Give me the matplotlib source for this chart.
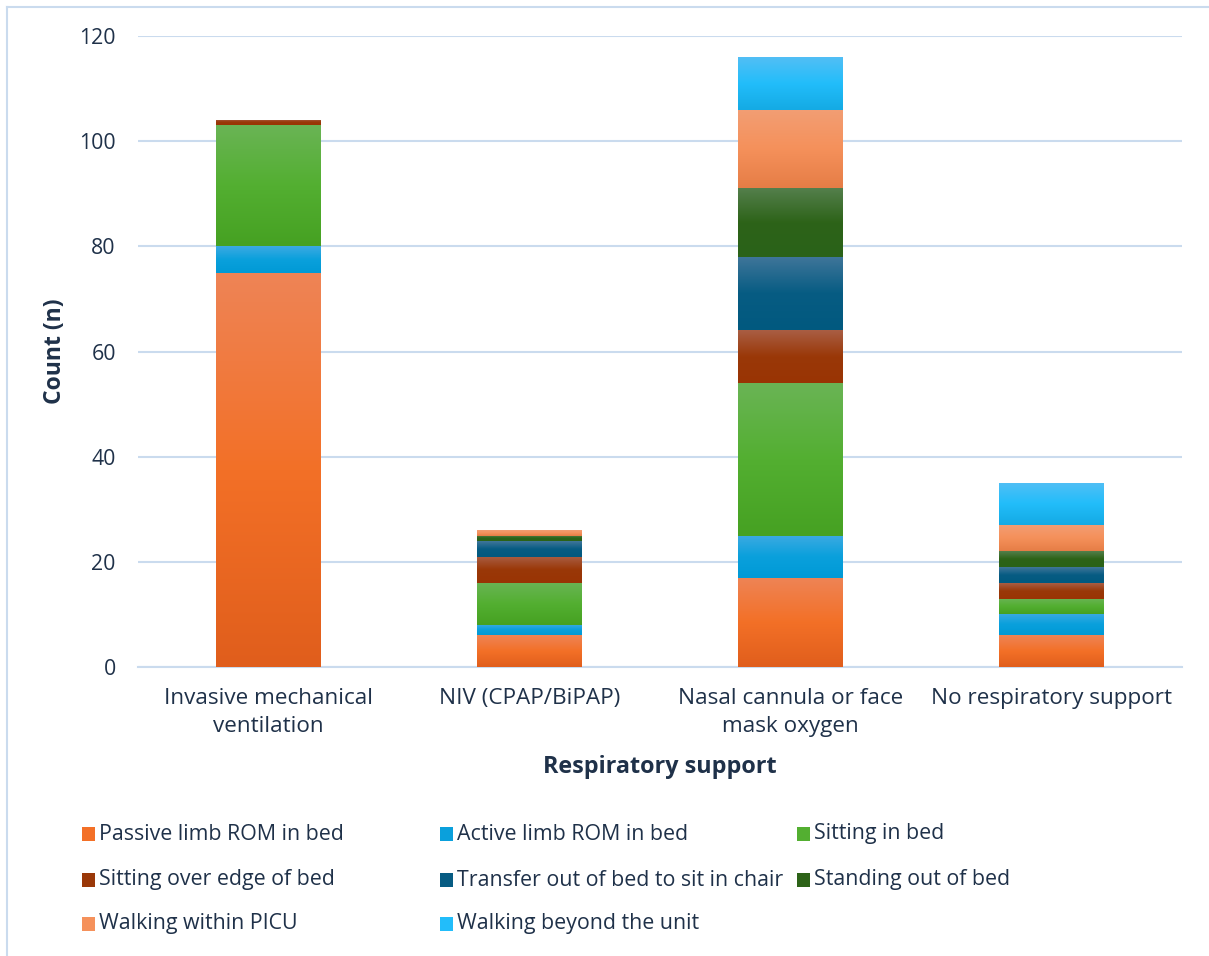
import numpy as np
import matplotlib
matplotlib.use("Agg")
import matplotlib.pyplot as plt
from matplotlib.colors import LinearSegmentedColormap
from matplotlib.patches import Rectangle
from matplotlib.lines import Line2D

plt.rcParams['font.family'] = ['Open Sans', 'DejaVu Sans']

# categories on the x axis
categories = ["Invasive mechanical\nventilation", "NIV (CPAP/BiPAP)",
              "Nasal cannula or face\nmask oxygen", "No respiratory support"]

# mobility level counts per respiratory support group
activities = ["Passive limb ROM in bed", "Active limb ROM in bed", "Sitting in bed",
              "Sitting over edge of bed", "Transfer out of bed to sit in chair",
              "Standing out of bed", "Walking within PICU", "Walking beyond the unit"]
passive_rom = [75, 6, 17, 6]
active_rom = [5, 2, 8, 4]
sitting_bed = [23, 8, 29, 3]
sitting_edge = [1, 5, 10, 3]
transfer_chair = [0, 3, 14, 3]
standing = [0, 1, 13, 3]
walking_picu = [0, 1, 15, 5]
walking_beyond = [0, 0, 10, 8]
series = [passive_rom, active_rom, sitting_bed, sitting_edge,
          transfer_chair, standing, walking_picu, walking_beyond]

# gradient stops (top, middle, bottom) for each series
gradients = [
    ("#EE8456", "#F37027", "#E05E1C"),
    ("#3CAAE2", "#0AA0DC", "#009AD6"),
    ("#6AB455", "#53AF31", "#46A122"),
    ("#A95E44", "#9A3808", "#993404"),
    ("#40769A", "#075C83", "#01597F"),
    ("#547F4C", "#2D6318", "#2A6219"),
    ("#F29E74", "#F5915B", "#E67D46"),
    ("#52BFF5", "#22BDFA", "#14AAE4"),
]

text_color = "#1F3149"
grid_color = "#CADBEE"

fig = plt.figure(figsize=(12.09, 9.56), dpi=100)
ax = fig.add_axes([138 / 1209, 1 - 667 / 956, 1044 / 1209, 631 / 956])

x = np.arange(len(categories))
width = 0.40
bottom = np.zeros(len(categories))
grad = np.linspace(0, 1, 256).reshape(-1, 1)

for vals, stops in zip(series, gradients):
    vals = np.array(vals, dtype=float)
    cmap = LinearSegmentedColormap.from_list("g", [stops[0], stops[1], stops[2]])
    bars = ax.bar(x, vals, width, bottom=bottom, color=stops[1], edgecolor="none", zorder=2)
    for b in bars:
        if b.get_height() <= 0:
            continue
        x0, y0 = b.get_x(), b.get_y()
        # light at the top of each segment, darker toward its base
        im = ax.imshow(grad, cmap=cmap, aspect="auto", interpolation="bilinear",
                       extent=[x0, x0 + b.get_width(), y0, y0 + b.get_height()],
                       origin="upper", zorder=3)
        im.set_clip_path(b)
    bottom += vals

ax.set_xlim(-0.5, len(categories) - 0.5)
ax.set_ylim(0, 120)
ax.set_yticks(np.arange(0, 121, 20))
ax.set_xticks(x)
ax.set_xticklabels(categories, fontsize=16.2, color=text_color, linespacing=1.42)
ax.tick_params(axis="y", labelsize=15.3, colors=text_color, length=0, pad=16)
ax.tick_params(axis="x", length=0, pad=15)
ax.yaxis.grid(True, color=grid_color, linewidth=1.5, zorder=0)
ax.set_axisbelow(True)
for side in ["top", "right", "left"]:
    ax.spines[side].set_visible(False)
ax.spines["bottom"].set_color(grid_color)
ax.spines["bottom"].set_linewidth(1.5)

ax.set_ylabel("Count (n)", fontsize=16.5, fontweight="bold", color=text_color, labelpad=9)
ax.set_xlabel("Respiratory support", fontsize=16.8, fontweight="bold", color=text_color, labelpad=13)

# legend laid out in three even columns
col_x = [82, 440, 797]
row_y = [834, 880, 924]
for i, (name, stops) in enumerate(zip(activities, gradients)):
    cx = col_x[i % 3]
    cy = row_y[i // 3]
    fig.patches.append(Rectangle((cx / 1209, 1 - (cy + 7) / 956), 13 / 1209, 14 / 956,
                                 transform=fig.transFigure, facecolor=stops[1],
                                 edgecolor="none"))
    fig.text((cx + 17) / 1209, 1 - cy / 956, name, fontsize=15.4, color=text_color,
             va="center", ha="left")

# outer chart frame
fig.add_artist(Line2D([7 / 1209, 7 / 1209], [0, 1 - 7 / 956], transform=fig.transFigure,
                      color=grid_color, linewidth=1.5))
fig.add_artist(Line2D([7 / 1209, 1], [1 - 7 / 956, 1 - 7 / 956], transform=fig.transFigure,
                      color=grid_color, linewidth=1.5))

fig.savefig("out.png", dpi=100)
